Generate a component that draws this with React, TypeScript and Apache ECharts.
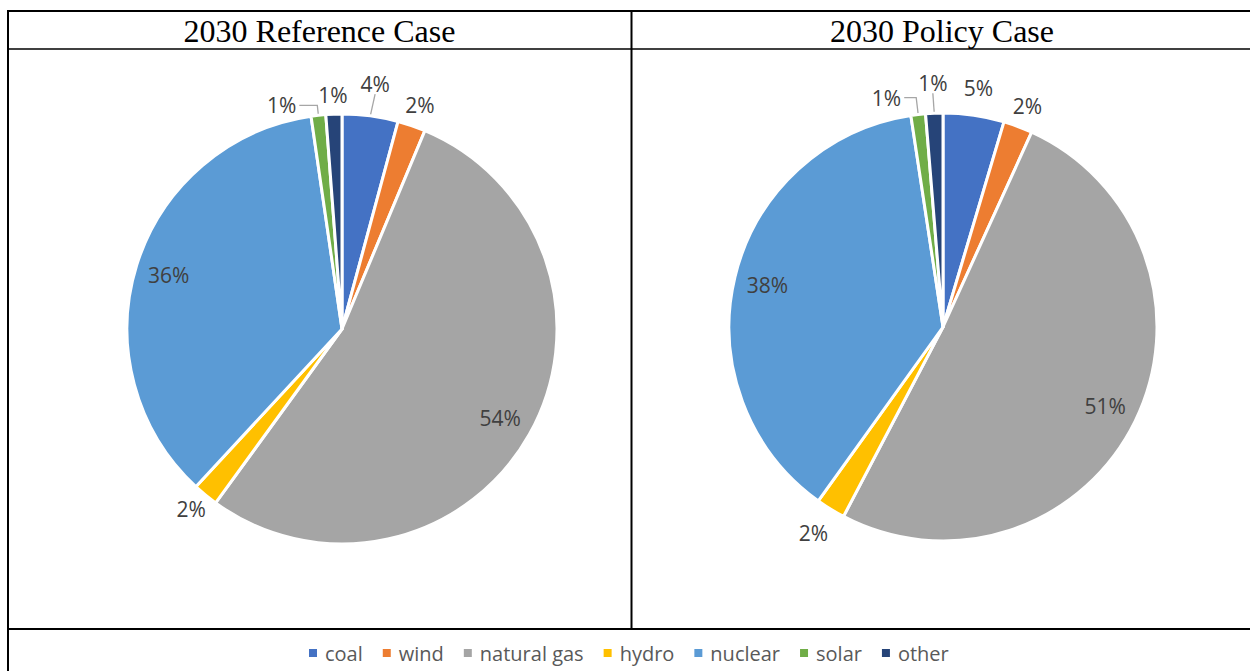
import React, { useEffect, useRef } from "react";
import * as echarts from "echarts";

// ---- data ----
const CATEGORIES = ["coal", "wind", "natural gas", "hydro", "nuclear", "solar", "other"];
const REFERENCE_2030 = [4.2, 2.1, 53.7, 1.9, 35.8, 1.1, 1.2];
const POLICY_2030 = [4.6, 2.2, 50.9, 2.2, 37.7, 1.1, 1.3];
const PANEL_TITLES = ["2030 Reference Case", "2030 Policy Case"];

// ---- styles ----
const COLORS = ["#4472C4", "#ED7D31", "#A5A5A5", "#FFC000", "#5B9BD5", "#70AD47", "#264478"];
const LABEL_FONT = "'Open Sans', 'Noto Sans', sans-serif";
const LABEL_COLOR = "#404040";

// per-slice outside label settings: mode "center" = box placed just beyond the radial point,
// mode "side" = ECharts' default horizontal leader.
type LabelCfg = { mode: "center" | "side" | "none"; line: boolean; len: number; len2: number };
const REF_LABELS: LabelCfg[] = [
  { mode: "center", line: true, len: 22, len2: 0 },
  { mode: "center", line: false, len: 11, len2: 0 },
  { mode: "none", line: false, len: 0, len2: 0 },
  { mode: "center", line: false, len: 8, len2: 0 },
  { mode: "none", line: false, len: 0, len2: 0 },
  { mode: "side", line: true, len: 10, len2: 18 },
  { mode: "center", line: false, len: 9, len2: 0 },
];
const POLICY_LABELS: LabelCfg[] = [
  { mode: "center", line: false, len: 17, len2: 0 },
  { mode: "center", line: false, len: 12, len2: 0 },
  { mode: "none", line: false, len: 0, len2: 0 },
  { mode: "center", line: false, len: 18, len2: 0 },
  { mode: "none", line: false, len: 0, len2: 0 },
  { mode: "side", line: true, len: 17, len2: 12 },
  { mode: "center", line: true, len: 20, len2: 0 },
];

const fmtPct = (p: any) => Math.round(p.percent) + "%";

function buildPie(values: number[], cfg: LabelCfg[], center: number[], R: number) {
  const main = {
    type: "pie",
    center,
    radius: [0, R],
    startAngle: 90,
    clockwise: true,
    avoidLabelOverlap: false,
    silent: true,
    itemStyle: { borderColor: "#ffffff", borderWidth: 3 },
    label: {
      show: true,
      position: "outside",
      formatter: fmtPct,
      color: LABEL_COLOR,
      fontSize: 21,
      fontFamily: LABEL_FONT,
      distanceToLabelLine: 3,
    },
    labelLine: { show: true, lineStyle: { color: "#A6A6A6", width: 1.3 } },
    labelLayout: (params: any) => {
      const c = cfg[params.dataIndex];
      if (!c || c.mode !== "center") return {};
      const pts = params.labelLinePoints;
      if (!pts || pts.length < 2) return {};
      const p0 = pts[0];
      const p1 = pts[1];
      const dx = p1[0] - p0[0];
      const dy = p1[1] - p0[1];
      const l = Math.hypot(dx, dy) || 1;
      const w = params.labelRect.width;
      const h = params.labelRect.height;
      return {
        x: p1[0] + (dx / l) * (w / 2),
        y: p1[1] + (dy / l) * (h / 2),
        align: "center",
        verticalAlign: "middle",
      };
    },
    data: values.map((v, i) => {
      const c = cfg[i];
      return {
        value: v,
        name: CATEGORIES[i],
        itemStyle: { color: COLORS[i] },
        label: { show: c.mode !== "none" },
        labelLine: {
          show: c.mode !== "none",
          length: c.len,
          length2: c.len2,
          lineStyle: { opacity: c.line ? 1 : 0 },
        },
      };
    }),
  };
  // transparent ring that carries the inside labels of the large slices
  const overlay = {
    type: "pie",
    center,
    radius: [Math.round(R * 0.66), R],
    startAngle: 90,
    clockwise: true,
    silent: true,
    avoidLabelOverlap: false,
    itemStyle: { color: "rgba(0,0,0,0)", borderWidth: 0 },
    label: {
      position: "inside",
      formatter: fmtPct,
      color: LABEL_COLOR,
      fontSize: 21,
      fontFamily: LABEL_FONT,
    },
    labelLine: { show: false },
    data: values.map((v, i) => ({
      value: v,
      name: CATEGORIES[i],
      label: { show: v > 10 },
    })),
  };
  return [main, overlay];
}

export default function App() {
  const ref = useRef<HTMLDivElement>(null);
  useEffect(() => {
    if (!ref.current) return;
    const chart = echarts.init(ref.current, null, { renderer: "svg" });
    const lineStyle = (w: number) => ({ stroke: "#000000", lineWidth: w });
    const titleFont = "32px 'Liberation Serif', 'Times New Roman', serif";
    const option: any = {
      animation: false,
      backgroundColor: "#ffffff",
      color: COLORS,
      legend: {
        data: CATEGORIES.map((n, i) => ({ name: n, itemStyle: { color: COLORS[i] } })),
        left: 307,
        top: 643,
        padding: 0,
        icon: "rect",
        itemWidth: 10,
        itemHeight: 10,
        itemGap: 18,
        selectedMode: false,
        textStyle: { color: "#595959", fontSize: 20, fontFamily: LABEL_FONT, padding: [0, 0, 0, 2] },
      },
      graphic: [
        { type: "line", shape: { x1: 7, y1: 11, x2: 1250, y2: 11 }, style: lineStyle(2) },
        { type: "line", shape: { x1: 8, y1: 10, x2: 8, y2: 671 }, style: lineStyle(2) },
        { type: "line", shape: { x1: 8, y1: 49, x2: 1250, y2: 49 }, style: lineStyle(1.5) },
        { type: "line", shape: { x1: 631.5, y1: 10, x2: 631.5, y2: 629 }, style: lineStyle(2) },
        { type: "line", shape: { x1: 8, y1: 629, x2: 1250, y2: 629 }, style: lineStyle(2) },
        {
          type: "text",
          x: 319.5,
          y: 31,
          style: {
            text: PANEL_TITLES[0],
            font: titleFont,
            fill: "#000000",
            align: "center",
            verticalAlign: "middle",
          },
        },
        {
          type: "text",
          x: 942,
          y: 31,
          style: {
            text: PANEL_TITLES[1],
            font: titleFont,
            fill: "#000000",
            align: "center",
            verticalAlign: "middle",
          },
        },
      ],
      series: [
        ...buildPie(REFERENCE_2030, REF_LABELS, [342, 329], 215),
        ...buildPie(POLICY_2030, POLICY_LABELS, [943, 327], 214),
      ],
    };
    chart.setOption(option);
    return () => chart.dispose();
  }, []);
  return (
    <div
      ref={ref}
      style={{ position: "absolute", left: 0, top: 0, width: 1250, height: 671, background: "#fff" }}
    />
  );
}
